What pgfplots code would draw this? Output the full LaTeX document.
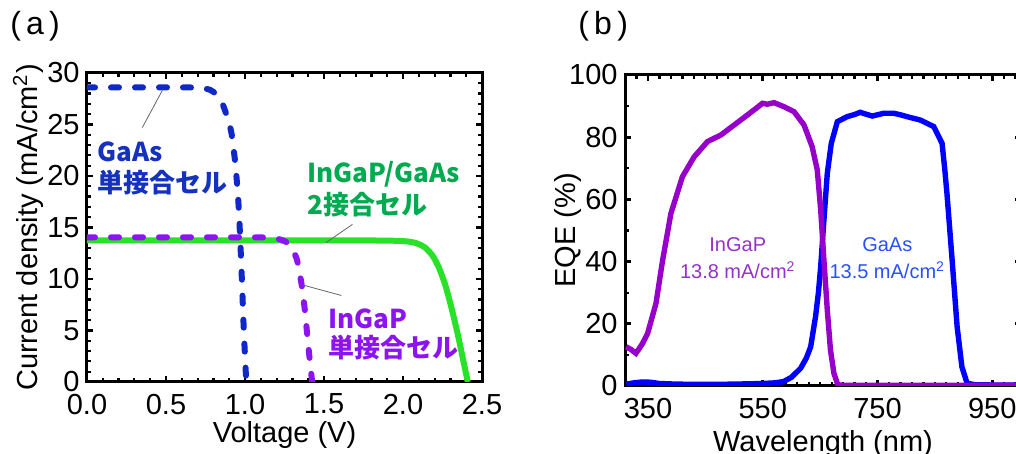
\documentclass[border=0pt]{standalone}
\usepackage{pgfplots}
\pgfplotsset{compat=1.18}
\usepackage{fontspec}
\setmainfont{Liberation Sans}
\newfontfamily\cjk{Noto Sans CJK JP}
\definecolor{gaasline}{RGB}{16,40,200}
\definecolor{ingapline}{RGB}{140,20,240}
\definecolor{tandem}{RGB}{40,225,40}
\definecolor{gaastext}{RGB}{20,50,190}
\definecolor{ingaptext}{RGB}{140,20,240}
\definecolor{tandemtext}{RGB}{0,170,80}
\definecolor{eqepurple}{RGB}{150,0,200}
\definecolor{eqeblue}{RGB}{0,0,255}
\definecolor{eqepurpletext}{RGB}{150,50,200}
\definecolor{eqebluetext}{RGB}{40,80,255}
\tikzset{ann/.style={line width=0.4pt, color=black!60}}
\pgfplotsset{
  myaxis/.style={
    scale only axis,
    anchor=south west,
    axis line style={line width=1.5pt},
    every major tick/.style={black, line width=1.4pt},
    every minor tick/.style={black, line width=1.1pt},
    major tick length=3pt, minor tick length=1.8pt,
    tick align=inside,
    /pgf/number format/assume math mode=true,
    tick label style={font=\fontsize{14.5}{17}\selectfont},
    label style={font=\fontsize{14.5}{17}\selectfont},
    yticklabel style={inner sep=0pt, anchor=east, xshift=-3.5pt},
    xticklabel style={inner sep=0pt, anchor=north, yshift=-5.75pt},
  },
}
\begin{document}
\begin{tikzpicture}
\useasboundingbox (0,0) rectangle (508pt,227pt);
\clip (0,0) rectangle (508pt,227pt);
\node[anchor=west, inner sep=0pt, font=\fontsize{16}{19}\selectfont] at (5pt,214pt) {(\kern2.6pt a\kern2.6pt)};
\node[anchor=west, inner sep=0pt, font=\fontsize{16}{19}\selectfont] at (289pt,214pt) {(\kern2.6pt b\kern2.6pt)};
% ---------------- (a) ----------------
\begin{axis}[myaxis, at={(43.5pt,36pt)}, width=197.5pt, height=154.5pt,
  xmin=0, xmax=2.5, ymin=0, ymax=30,
  xtick={0,0.5,1,1.5,2,2.5}, ytick={0,5,10,15,20,25,30},
  minor x tick num=4, minor y tick num=4,
  xticklabel style={/pgf/number format/.cd, fixed, fixed zerofill, precision=1},
  xlabel={Voltage (V)}, ylabel={Current density (mA/cm\textsuperscript{2})},
  xlabel style={at={(axis description cs:0.5,-0.128)}, anchor=north, inner sep=0pt},
  ylabel style={at={(axis description cs:-0.109,0.5)}, anchor=south, inner sep=0pt},
]
\addplot[tandem, line width=3pt, smooth, tension=0.4] coordinates {
(0,13.75) (1.0,13.75) (1.8,13.74) (2.0,13.68) (2.08,13.5) (2.14,13.05) (2.19,12.2)
(2.23,11.0) (2.27,9.3) (2.31,7.0) (2.35,4.4) (2.38,2.2) (2.41,0)};
\addplot[gaasline, line width=3pt, line cap=round, dash pattern=on 4pt off 8pt, smooth, tension=0.4] coordinates {
(0,28.6) (0.6,28.6) (0.72,28.55) (0.78,28.35) (0.82,27.9) (0.86,26.9) (0.89,25.6)
(0.915,24.1) (0.94,21) (0.96,17) (0.977,11.2) (0.993,4.8) (1.008,0)};
\addplot[ingapline, line width=3pt, line cap=round, dash pattern=on 4pt off 8pt, smooth, tension=0.4] coordinates {
(0,14.05) (1.0,14.05) (1.15,14.0) (1.22,13.85) (1.27,13.5) (1.30,12.9) (1.33,11.8)
(1.36,9.3) (1.38,6.8) (1.40,3.6) (1.425,0)};
\draw[ann] (axis cs:0.48,28.4) -- (axis cs:0.35,24.7);
\draw[ann] (axis cs:1.68,15.3) -- (axis cs:1.51,13.5);
\draw[ann] (axis cs:1.61,8.4) -- (axis cs:1.37,9.4);
\node[anchor=base west, inner sep=0pt, text=gaastext, font=\cjk\bfseries\fontsize{13}{15}\selectfont] at (axis cs:0.063,21.4) {GaAs};
\node[anchor=base west, inner sep=0pt, text=gaastext, font=\cjk\bfseries\fontsize{13}{15}\selectfont] at (axis cs:0.063,18.4) {単接合セル};
\node[anchor=base west, inner sep=0pt, text=tandemtext, font=\cjk\bfseries\fontsize{13}{15}\selectfont] at (axis cs:1.392,19.4) {InGaP/GaAs};
\node[anchor=base west, inner sep=0pt, text=tandemtext, font=\cjk\bfseries\fontsize{13}{15}\selectfont] at (axis cs:1.392,16.3) {2接合セル};
\node[anchor=base west, inner sep=0pt, text=ingaptext, font=\cjk\bfseries\fontsize{13}{15}\selectfont] at (axis cs:1.525,5.2) {InGaP};
\node[anchor=base west, inner sep=0pt, text=ingaptext, font=\cjk\bfseries\fontsize{13}{15}\selectfont] at (axis cs:1.525,2.4) {単接合セル};
\end{axis}
% ---------------- (b) ----------------
\begin{axis}[myaxis, at={(312.5pt,34pt)}, width=198pt, height=155.5pt,
  xmin=310, xmax=1000, ymin=0, ymax=100,
  xtick={350,550,750,950}, minor xtick={310,330,...,990},
  ytick={0,20,40,60,80,100}, minor y tick num=1,
  xlabel={Wavelength (nm)}, ylabel={EQE (\%)},
  xlabel style={at={(axis description cs:0.5,-0.141)}, anchor=north, inner sep=0pt},
  ylabel style={at={(axis description cs:-0.109,0.5)}, anchor=south, inner sep=0pt},
]
\addplot[eqeblue, line width=2.7pt] coordinates {
(312,0.6) (325,1.0) (340,1.3) (355,1.2) (370,0.8) (400,0.6) (450,0.5) (500,0.6) (550,0.8)
(570,1.0) (586,1.4) (600,2.8) (616,5.7) (626,9) (633.5,12.6) (642,22.3) (647,30) (651,38.4)
(656.6,53.4) (662.5,68.4) (669.4,78) (680,85) (697,86.6) (710,87.3) (720,88) (730,87.4) (740.8,86.8)
(761,87.7) (778,87.7) (790,87.2) (801.5,86.6) (824.8,85.5) (848,83.4) (862.5,78) (867,70)
(871,61.9) (880,40.5) (888.7,19.1) (897,6.2) (906,0.9) (920,0.4) (960,0.3) (1000,0.3)};
\addplot[eqepurple, line width=2.7pt] coordinates {
(311.7,12.6) (320,11.8) (329,10.5) (340,13.5) (349.4,16.9) (364,26.6) (375.6,40.5) (390,55.5)
(410,67.3) (430.5,73.7) (453.8,78.6) (477,80.7) (500,83.9) (523,87.1) (540,89.5) (549.5,90.9)
(558,90.6) (569.7,91.1) (587,89.8) (604.5,88.2) (622,83.9) (636,77) (645,69.5) (651,56.6)
(656.6,40.5) (662.5,24.4) (668,11.6) (674,4.1) (681,0.3) (700,0.2) (800,0.2) (1000,0.2)};
\node[text=eqepurpletext, font=\fontsize{10}{12}\selectfont, inner sep=0pt] at (axis cs:506.5,45.3) {InGaP};
\node[text=eqepurpletext, font=\fontsize{10}{12}\selectfont, inner sep=0pt] at (axis cs:506.5,37.3) {13.8 mA/cm\textsuperscript{2}};
\node[text=eqebluetext, font=\fontsize{10}{12}\selectfont, inner sep=0pt] at (axis cs:767,45.3) {GaAs};
\node[text=eqebluetext, font=\fontsize{10}{12}\selectfont, inner sep=0pt] at (axis cs:767,37.3) {13.5 mA/cm\textsuperscript{2}};
\end{axis}
\end{tikzpicture}
\end{document}
